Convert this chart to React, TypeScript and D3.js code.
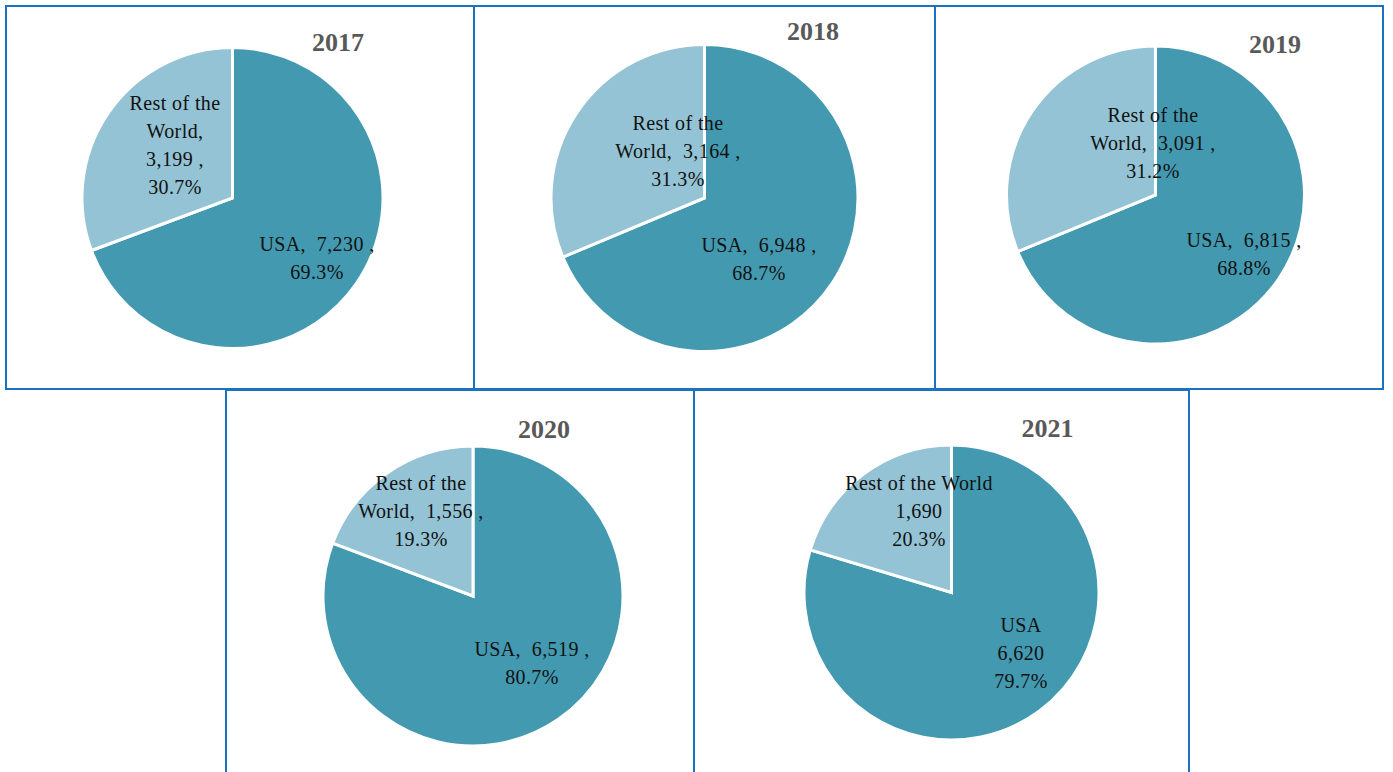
import React from "react";
import * as d3 from "d3";

// ---- DATA ----
const years = ["2017", "2018", "2019", "2020", "2021"];
const categories = ["USA", "Rest of the World"];
const usaValues = [7230, 6948, 6815, 6519, 6620];
const rowValues = [3199, 3164, 3091, 1556, 1690];

// ---- LAYOUT (positions only) ----
type Panel = {
  box: [number, number, number, number];
  cx: number;
  cy: number;
  r: number;
  title: [number, number];
  rowLabel: [number, number]; // center x, first baseline
  usaLabel: [number, number];
  wrap: "a" | "b" | "c";
};
const panels: Panel[] = [
  { box: [6, 6, 468, 383], cx: 232.5, cy: 198, r: 150.5, title: [338, 51], rowLabel: [175, 110], usaLabel: [317, 251], wrap: "a" },
  { box: [474, 6, 461, 383], cx: 704.5, cy: 198, r: 153.5, title: [813, 40], rowLabel: [678, 130], usaLabel: [759, 252], wrap: "b" },
  { box: [935, 6, 448, 383], cx: 1155.5, cy: 195, r: 149, title: [1275, 53], rowLabel: [1153, 122], usaLabel: [1244, 247], wrap: "b" },
  { box: [226, 390, 468, 420], cx: 473, cy: 596, r: 150, title: [544, 438], rowLabel: [421, 490], usaLabel: [532, 656], wrap: "b" },
  { box: [694, 390, 495, 420], cx: 951.5, cy: 592.5, r: 147.5, title: [1047.5, 437], rowLabel: [919, 490], usaLabel: [1021, 632], wrap: "c" },
];

const COLORS = ["#4399B0", "#93C3D4"];
const BORDER = "#1B72C1";
const LH = 28;
const fmt = d3.format(",");
const pct = d3.format(".1%");
const NB = "\u00A0";

function labelLines(name: string, value: number, share: number, wrap: string, isRow: boolean): string[] {
  const v = fmt(value);
  const p = pct(share);
  if (wrap === "c") return [name, v, p];
  if (isRow) {
    if (wrap === "a") return ["Rest of the", "World,", `${v}${NB},`, p];
    return ["Rest of the", `World,${NB}${NB}${v}${NB},`, p];
  }
  return [`${name},${NB}${NB}${v}${NB},`, p];
}

export default function App() {
  const pie = d3.pie<number>().sort(null).value((d) => d);
  return (
    <svg width={1393} height={772} style={{ position: "fixed", left: 0, top: 0, background: "#fff" }}
      fontFamily="'Liberation Serif', 'Times New Roman', serif">
      <rect x={0} y={0} width={1393} height={772} fill="#fff" />
      {years.map((year, i) => {
        const p = panels[i];
        const vals = [usaValues[i], rowValues[i]];
        const total = d3.sum(vals);
        const arcs = pie(vals);
        const arc = d3.arc<d3.PieArcDatum<number>>().innerRadius(0).outerRadius(p.r);
        const rowL = labelLines(categories[1], rowValues[i], rowValues[i] / total, p.wrap, true);
        const usaL = labelLines(categories[0], usaValues[i], usaValues[i] / total, p.wrap, false);
        return (
          <g key={year}>
            <rect x={p.box[0]} y={p.box[1]} width={p.box[2]} height={p.box[3]} fill="none" stroke={BORDER} strokeWidth={2} />
            <g transform={`translate(${p.cx},${p.cy})`}>
              {arcs.map((a, j) => (
                <path key={j} d={arc(a) || ""} fill={COLORS[j]} stroke="#fff" strokeWidth={3} strokeLinejoin="miter" />
              ))}
            </g>
            <text x={p.title[0]} y={p.title[1]} textAnchor="middle" fontSize={26} fontWeight="bold" fill="#595959">{year}</text>
            <text textAnchor="middle" fontSize={20} letterSpacing={0.4} fill="#111">
              {rowL.map((t, k) => (
                <tspan key={k} x={p.rowLabel[0]} y={p.rowLabel[1] + k * LH}>{t}</tspan>
              ))}
            </text>
            <text textAnchor="middle" fontSize={20} letterSpacing={0.4} fill="#111">
              {usaL.map((t, k) => (
                <tspan key={k} x={p.usaLabel[0]} y={p.usaLabel[1] + k * LH}>{t}</tspan>
              ))}
            </text>
          </g>
        );
      })}
    </svg>
  );
}
